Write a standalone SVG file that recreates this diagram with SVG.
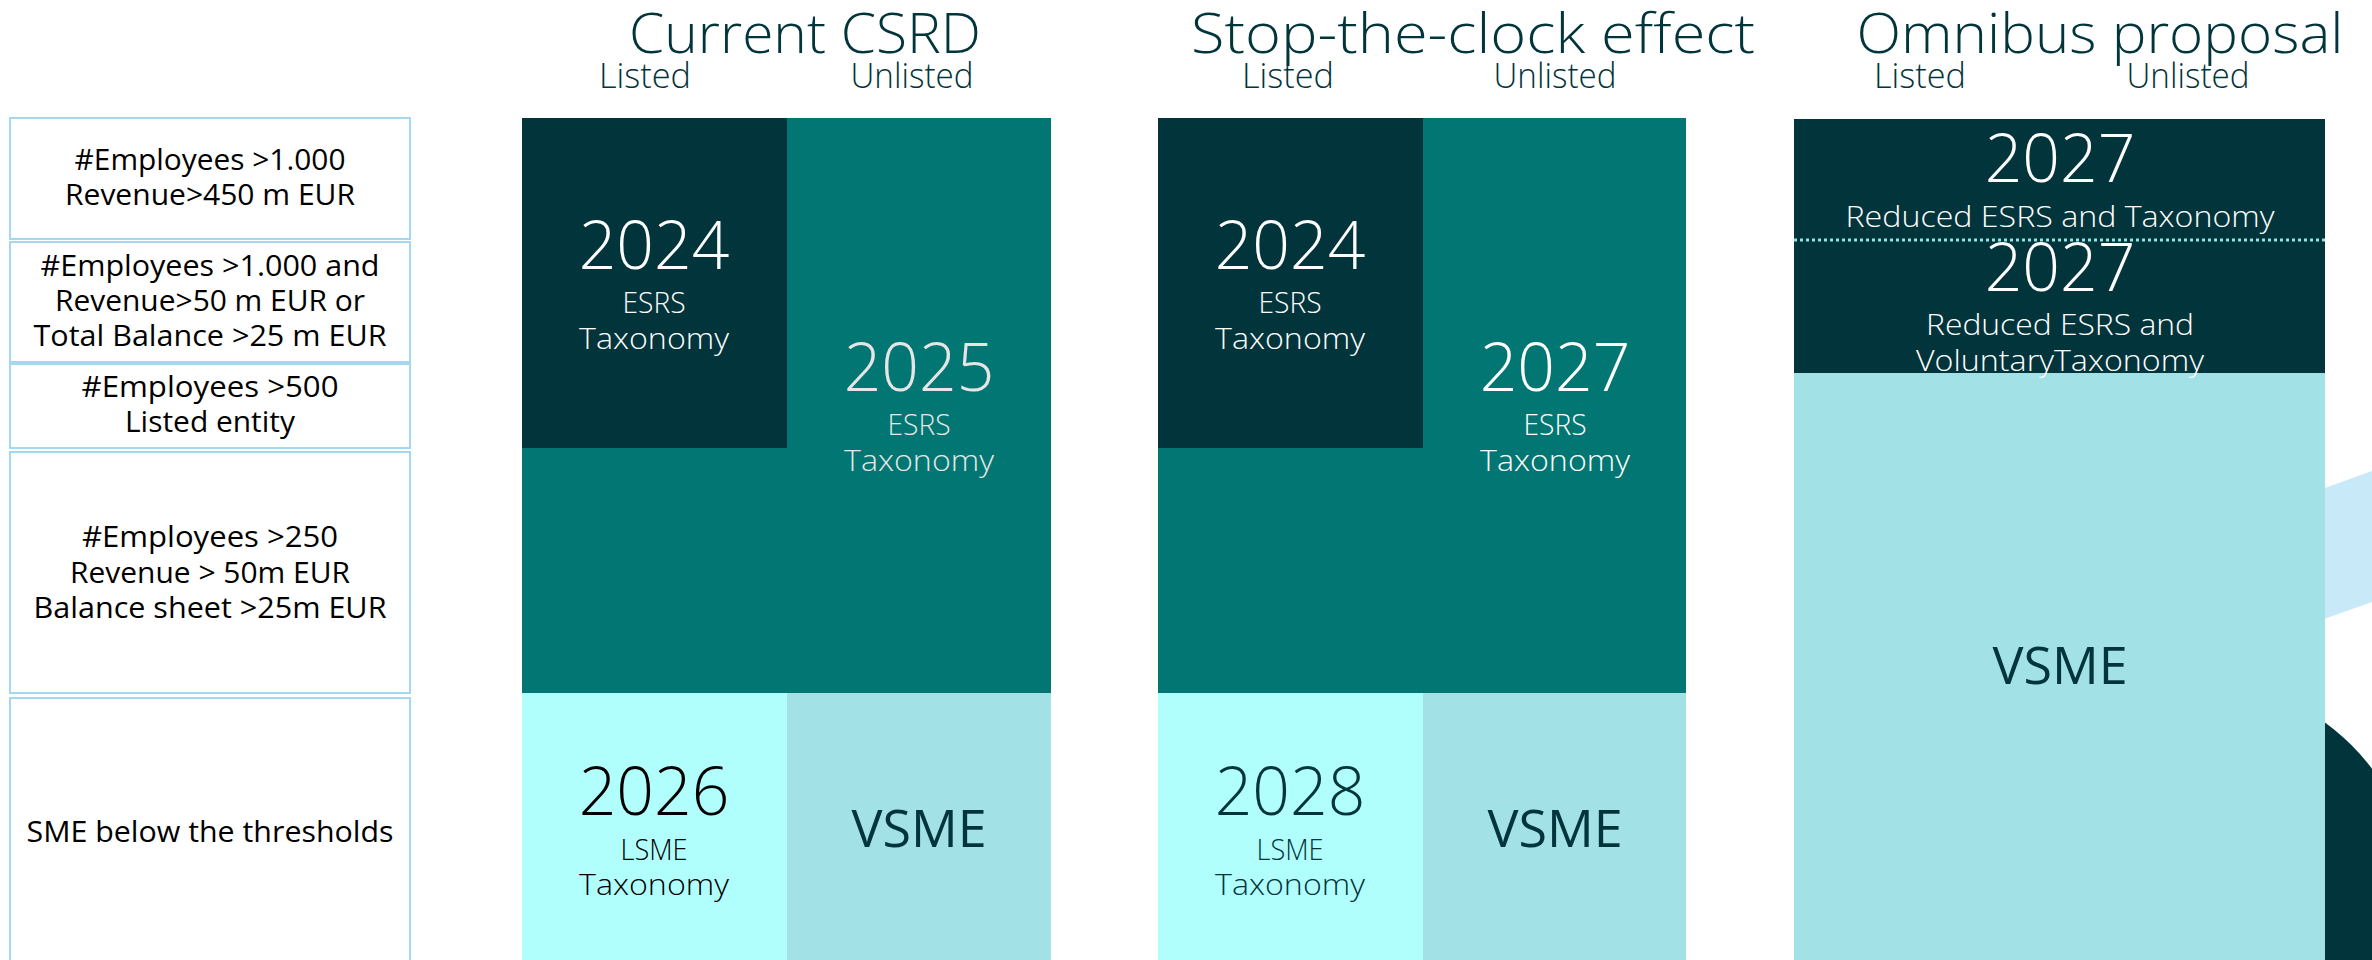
<svg xmlns="http://www.w3.org/2000/svg" width="2372" height="960" viewBox="0 0 2372 960">
<style>
.bg{fill:#ffffff}
.crit rect{fill:#ffffff;stroke:#A3D8EE;stroke-width:2}
.crit text{font-family:"Open Sans","Liberation Sans",sans-serif;font-size:29px;fill:#000000;text-anchor:middle}
.title{font-family:"Open Sans","Liberation Sans",sans-serif;font-weight:300;font-size:55px;fill:#02343B;text-anchor:middle}
.sub{font-family:"Open Sans","Liberation Sans",sans-serif;font-weight:300;font-size:34px;fill:#02343B;text-anchor:middle}
.dark{fill:#02343B}
.teal{fill:#027672}
.cyan{fill:#B0FFFD}
.pale{fill:#A2E1E6}
.yr{font-family:"Open Sans","Liberation Sans",sans-serif;font-weight:300;font-size:66px;text-anchor:middle}
.lb{font-family:"Open Sans","Liberation Sans",sans-serif;font-weight:300;font-size:30px;text-anchor:middle}
.vs{font-family:"Open Sans","Liberation Sans",sans-serif;font-weight:400;font-size:52px;fill:#02343B;text-anchor:middle}
.w{fill:#ffffff}
.g{fill:#E6E6E6}
.k{fill:#000000}
.d{fill:#02343B}
</style>
<rect class="bg" x="0" y="0" width="2372" height="960"/>

<!-- decorative shapes at right edge -->
<g id="decor">
  <polygon points="2200,533 2372,471 2372,602 2200,663" fill="#C8E9F8"/>
  <circle cx="2189" cy="908" r="230" fill="#02343B"/>
</g>

<!-- criteria column -->
<g id="crit1" class="crit">
  <rect x="10" y="118" width="400" height="121"/>
  <text x="210" y="170" textLength="271" lengthAdjust="spacingAndGlyphs">#Employees &gt;1.000</text>
  <text x="210" y="205" textLength="290" lengthAdjust="spacingAndGlyphs">Revenue&gt;450 m EUR</text>
</g>
<g id="crit2" class="crit">
  <rect x="10" y="242" width="400" height="120"/>
  <text x="210" y="276" textLength="339" lengthAdjust="spacingAndGlyphs">#Employees &gt;1.000 and</text>
  <text x="210" y="311" textLength="310" lengthAdjust="spacingAndGlyphs">Revenue&gt;50 m EUR or</text>
  <text x="210" y="346" textLength="353" lengthAdjust="spacingAndGlyphs">Total Balance &gt;25 m EUR</text>
</g>
<g id="crit3" class="crit">
  <rect x="10" y="364" width="400" height="84"/>
  <text x="210" y="397" textLength="257" lengthAdjust="spacingAndGlyphs">#Employees &gt;500</text>
  <text x="210" y="432" textLength="170" lengthAdjust="spacingAndGlyphs">Listed entity</text>
</g>
<g id="crit4" class="crit">
  <rect x="10" y="452" width="400" height="241"/>
  <text x="210" y="547" textLength="256" lengthAdjust="spacingAndGlyphs">#Employees &gt;250</text>
  <text x="210" y="583" textLength="280" lengthAdjust="spacingAndGlyphs">Revenue &gt; 50m EUR</text>
  <text x="210" y="618" textLength="353" lengthAdjust="spacingAndGlyphs">Balance sheet &gt;25m EUR</text>
</g>
<g id="crit5" class="crit">
  <rect x="10" y="698" width="400" height="270"/>
  <text x="210" y="842" textLength="367" lengthAdjust="spacingAndGlyphs">SME below the thresholds</text>
</g>

<!-- Column 1: Current CSRD -->
<g id="col1-header">
  <text class="title" x="805" y="53" textLength="352" lengthAdjust="spacingAndGlyphs">Current CSRD</text>
  <text class="sub" x="645" y="88" textLength="92" lengthAdjust="spacingAndGlyphs">Listed</text>
  <text class="sub" x="912" y="88" textLength="123" lengthAdjust="spacingAndGlyphs">Unlisted</text>
</g>
<g id="col1-large">
  <rect class="teal" x="522" y="118" width="529" height="575"/>
  <text class="yr g" x="919" y="391">2025</text>
  <text class="lb g" x="919" y="435" textLength="63" lengthAdjust="spacingAndGlyphs">ESRS</text>
  <text class="lb g" x="919" y="471" textLength="150" lengthAdjust="spacingAndGlyphs">Taxonomy</text>
</g>
<g id="col1-listed">
  <rect class="dark" x="522" y="118" width="265" height="330"/>
  <text class="yr w" x="654" y="269">2024</text>
  <text class="lb w" x="654" y="313" textLength="63" lengthAdjust="spacingAndGlyphs">ESRS</text>
  <text class="lb w" x="654" y="349" textLength="150" lengthAdjust="spacingAndGlyphs">Taxonomy</text>
</g>
<g id="col1-sme-listed">
  <rect class="cyan" x="522" y="693" width="265" height="267"/>
  <text class="yr k" x="654" y="815">2026</text>
  <text class="lb k" x="654" y="860" textLength="67" lengthAdjust="spacingAndGlyphs">LSME</text>
  <text class="lb k" x="654" y="895" textLength="150" lengthAdjust="spacingAndGlyphs">Taxonomy</text>
</g>
<g id="col1-sme-unlisted">
  <rect class="pale" x="787" y="693" width="264" height="267"/>
  <text class="vs" x="919" y="847">VSME</text>
</g>

<!-- Column 2: Stop-the-clock -->
<g id="col2-header">
  <text class="title" x="1473" y="53" textLength="564" lengthAdjust="spacingAndGlyphs">Stop-the-clock effect</text>
  <text class="sub" x="1288" y="88" textLength="92" lengthAdjust="spacingAndGlyphs">Listed</text>
  <text class="sub" x="1555" y="88" textLength="123" lengthAdjust="spacingAndGlyphs">Unlisted</text>
</g>
<g id="col2-large">
  <rect class="teal" x="1158" y="118" width="528" height="575"/>
  <text class="yr w" x="1555" y="391">2027</text>
  <text class="lb w" x="1555" y="435" textLength="63" lengthAdjust="spacingAndGlyphs">ESRS</text>
  <text class="lb w" x="1555" y="471" textLength="150" lengthAdjust="spacingAndGlyphs">Taxonomy</text>
</g>
<g id="col2-listed">
  <rect class="dark" x="1158" y="118" width="265" height="330"/>
  <text class="yr w" x="1290" y="269">2024</text>
  <text class="lb w" x="1290" y="313" textLength="63" lengthAdjust="spacingAndGlyphs">ESRS</text>
  <text class="lb w" x="1290" y="349" textLength="150" lengthAdjust="spacingAndGlyphs">Taxonomy</text>
</g>
<g id="col2-sme-listed">
  <rect class="cyan" x="1158" y="693" width="265" height="267"/>
  <text class="yr d" x="1290" y="815">2028</text>
  <text class="lb d" x="1290" y="860" textLength="67" lengthAdjust="spacingAndGlyphs">LSME</text>
  <text class="lb d" x="1290" y="895" textLength="150" lengthAdjust="spacingAndGlyphs">Taxonomy</text>
</g>
<g id="col2-sme-unlisted">
  <rect class="pale" x="1423" y="693" width="263" height="267"/>
  <text class="vs" x="1555" y="847">VSME</text>
</g>

<!-- Column 3: Omnibus proposal -->
<g id="col3-header">
  <text class="title" x="2100" y="53" textLength="487" lengthAdjust="spacingAndGlyphs">Omnibus proposal</text>
  <text class="sub" x="1920" y="88" textLength="92" lengthAdjust="spacingAndGlyphs">Listed</text>
  <text class="sub" x="2188" y="88" textLength="123" lengthAdjust="spacingAndGlyphs">Unlisted</text>
</g>
<g id="col3-vsme">
  <rect class="pale" x="1794" y="373" width="531" height="587"/>
  <text class="vs" x="2060" y="684">VSME</text>
</g>
<g id="col3-large-listed">
  <rect class="dark" x="1794" y="119" width="531" height="121"/>
  <text class="yr w" x="2060" y="182">2027</text>
  <text class="lb w" x="2060" y="227" textLength="429" lengthAdjust="spacingAndGlyphs">Reduced ESRS and Taxonomy</text>
</g>
<g id="col3-large-unlisted">
  <rect class="dark" x="1794" y="240" width="531" height="133"/>
  <text class="yr w" x="2060" y="291">2027</text>
  <text class="lb w" x="2060" y="335" textLength="268" lengthAdjust="spacingAndGlyphs">Reduced ESRS and</text>
  <text class="lb w" x="2060" y="371" textLength="288" lengthAdjust="spacingAndGlyphs">VoluntaryTaxonomy</text>
</g>
<g id="connectors">
  <line x1="1794" y1="240" x2="2325" y2="240" stroke="#8EE6E3" stroke-width="3" stroke-dasharray="3 3"/>
</g>
</svg>
